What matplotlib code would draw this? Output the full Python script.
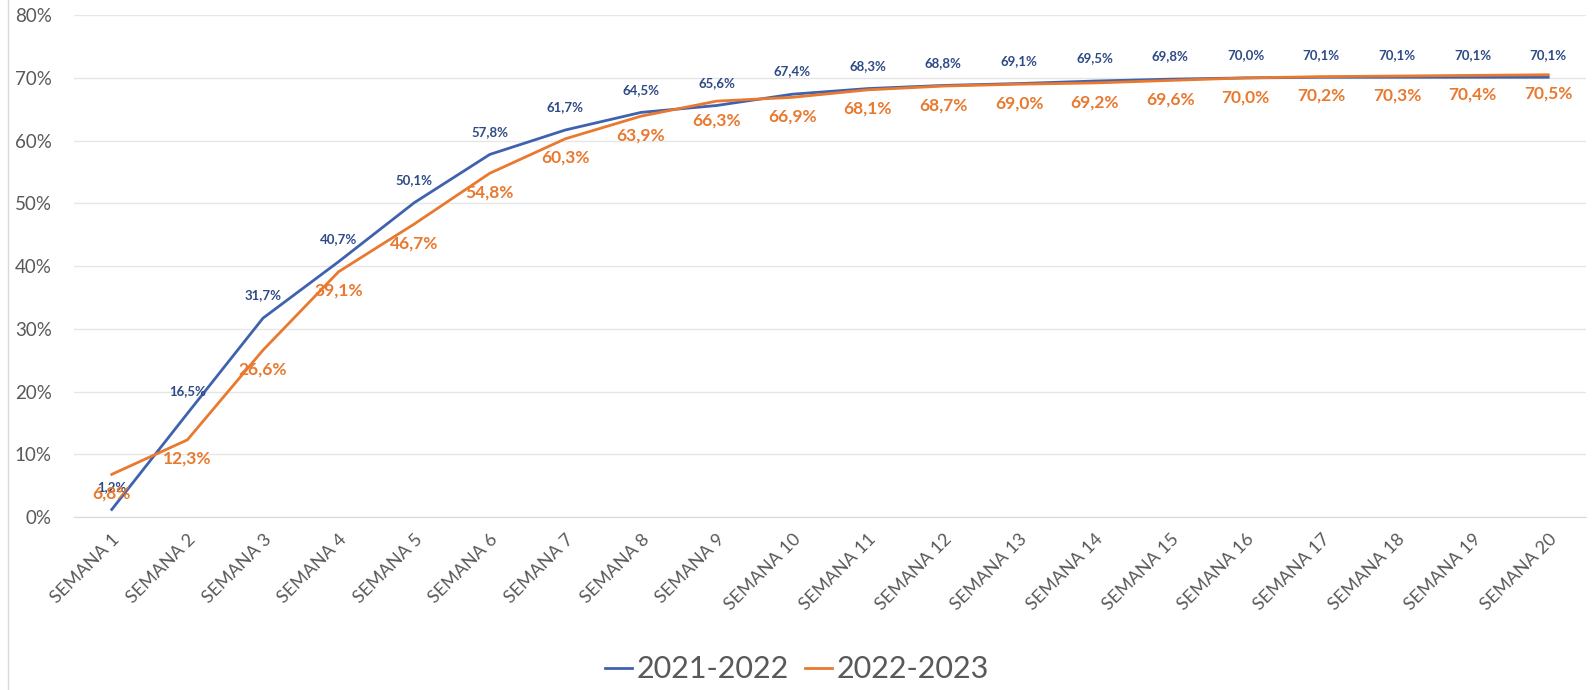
import matplotlib.pyplot as plt
from matplotlib.ticker import FuncFormatter

plt.rcParams['font.family'] = ['Lato', 'DejaVu Sans']

semanas = ['SEMANA %d' % i for i in range(1, 21)]
s2122 = [1.2, 16.5, 31.7, 40.7, 50.1, 57.8, 61.7, 64.5, 65.6, 67.4,
         68.3, 68.8, 69.1, 69.5, 69.8, 70.0, 70.1, 70.1, 70.1, 70.1]
s2223 = [6.8, 12.3, 26.6, 39.1, 46.7, 54.8, 60.3, 63.9, 66.3, 66.9,
         68.1, 68.7, 69.0, 69.2, 69.6, 70.0, 70.2, 70.3, 70.4, 70.5]

blue = '#3F62AE'
orange = '#E8792F'
gray = '#595959'

fig = plt.figure(figsize=(15.94, 6.9), dpi=100)
ax = fig.add_axes([0.0464, 0.2507, 0.9486, 0.7273])

x = list(range(1, 21))
ax.plot(x, s2122, color=blue, lw=2, label='2021-2022')
ax.plot(x, s2223, color=orange, lw=2, label='2022-2023')

def fmt(v):
    return ('%.1f%%' % v).replace('.', ',')

for xi, v in zip(x, s2122):
    ax.annotate(fmt(v), (xi, v), xytext=(0, 12), textcoords='offset points',
                ha='center', va='bottom', fontsize=9.5, fontweight='bold', color='#2E4A86')
for xi, v in zip(x, s2223):
    ax.annotate(fmt(v), (xi, v), xytext=(0, -8), textcoords='offset points',
                ha='center', va='top', fontsize=12.5, fontweight='bold', color=orange)

ax.set_xlim(0.5, 20.5)
ax.set_ylim(0, 80)
ax.set_yticks(range(0, 81, 10))
ax.yaxis.set_major_formatter(FuncFormatter(lambda v, p: '%d%%' % v))
ax.set_xticks(x)
ax.set_xticklabels(semanas, rotation=45, ha='right', rotation_mode='anchor')
ax.tick_params(axis='both', length=0, labelcolor=gray)
ax.tick_params(axis='y', labelsize=13.5, pad=16)
ax.tick_params(axis='x', labelsize=13, pad=10)
ax.grid(axis='y', color='#E6E6E6', lw=1)
ax.set_axisbelow(True)
for sp in ax.spines.values():
    sp.set_visible(False)
ax.spines['bottom'].set_visible(True)
ax.spines['bottom'].set_color('#D9D9D9')

# faint left border as in the screenshot
fig.add_artist(plt.Line2D([0.005, 0.005], [0, 1], color='#D9D9D9', lw=1))

leg = fig.legend(loc='center', bbox_to_anchor=(0.5, 0.03), ncol=2, frameon=False,
                 fontsize=22, handlelength=0.9, handletextpad=0.15, columnspacing=0.5)
for t in leg.get_texts():
    t.set_color(gray)

fig.savefig('out.png', dpi=100, facecolor='white')
